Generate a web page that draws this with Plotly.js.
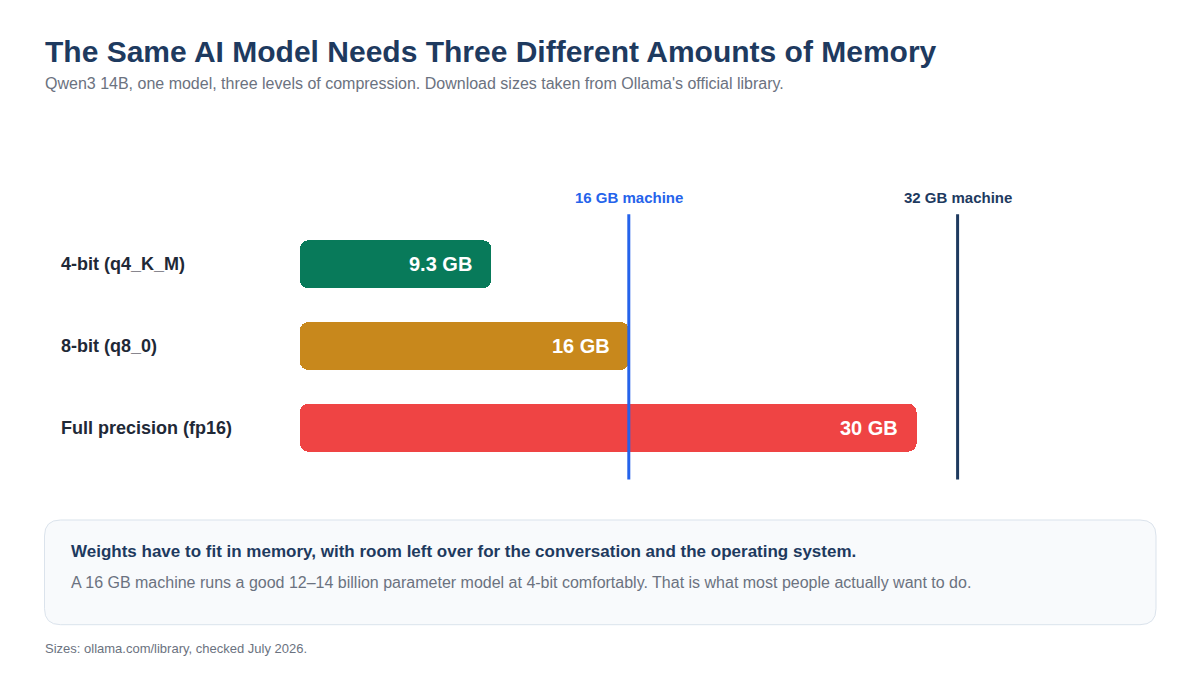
<!DOCTYPE html>
<html>
<head>
<meta charset="utf-8">
<script src="https://cdn.plot.ly/plotly-3.0.1.min.js"></script>
<style>
  html, body { margin: 0; padding: 0; background: #ffffff; }
  #chart { width: 1200px; height: 675px; }
</style>
</head>
<body>
<div id="chart"></div>
<script>
// ---- Data ----
const categories = ["4-bit (q4_K_M)", "8-bit (q8_0)", "Full precision (fp16)"];
const sizesGB = [9.3, 16, 30];
const sizeLabels = ["9.3 GB", "16 GB", "30 GB"];
const barColors = ["#087a5a", "#c8881c", "#ef4444"];
const machinesGB = [16, 32];
const machineLabels = ["16 GB machine", "32 GB machine"];
const machineColors = ["#2563eb", "#1e3a5f"];

// ---- Layout geometry (pixels) ----
const W = 1200, H = 675;
const ml = 300, mr = 78, mt = 206.6, mb = 189.6;
const pw = W - ml - mr, ph = H - mt - mb;
const px = x => (x - ml) / pw;
const py = y => (H - mb - y) / ph;

const FONT = "Liberation Sans";
const NAVY = "#1e3a5f";
const GRAY = "#6b7280";

const yIdx = categories.map((c, i) => i);
// each bar drawn as two overlapping halves so both ends get rounded corners
const barStart = {
  type: "bar", orientation: "h",
  y: yIdx,
  base: sizesGB.map(v => v * 0.6),
  x: sizesGB.map(v => -v * 0.6),
  width: 0.585,
  marker: { color: barColors, cornerradius: 8, line: { width: 0 } },
  hoverinfo: "skip", showlegend: false
};
const barEnd = {
  type: "bar", orientation: "h",
  y: yIdx,
  base: sizesGB.map(v => v * 0.4),
  x: sizesGB.map(v => v * 0.6),
  width: 0.585,
  marker: { color: barColors, cornerradius: 8, line: { width: 0 } },
  hoverinfo: "skip", showlegend: false
};

const shapes = [];
const annotations = [];

// machine lines
machinesGB.forEach((m, i) => {
  shapes.push({
    type: "line", xref: "x", yref: "y",
    x0: m, x1: m, y0: -0.61, y1: 2.634,
    line: { color: machineColors[i], width: 3 },
    layer: "above"
  });
  annotations.push({
    xref: "x", yref: "paper", x: m, y: py(197),
    text: "<b>" + machineLabels[i] + "</b>",
    showarrow: false, xanchor: "center", yanchor: "middle", borderpad: 0,
    font: { family: FONT, size: 15, color: machineColors[i] }
  });
});

// category labels on the left + value labels inside bars
categories.forEach((c, i) => {
  annotations.push({
    xref: "paper", yref: "y", x: px(60), y: i,
    text: "<b>" + c + "</b>",
    showarrow: false, xanchor: "left", yanchor: "middle", borderpad: 0,
    font: { family: FONT, size: 18, color: "#1f2937" }
  });
  annotations.push({
    xref: "x", yref: "y", x: sizesGB[i], y: i,
    text: "<b>" + sizeLabels[i] + "</b>",
    showarrow: false, xanchor: "right", yanchor: "middle", xshift: -18, borderpad: 0,
    font: { family: FONT, size: 20, color: "#ffffff" }
  });
});

// rounded note box
function roundRect(x0, y0, x1, y1, r) {
  const P = (x, y) => px(x) + "," + py(y);
  return "M" + P(x0 + r, y0) +
    " L" + P(x1 - r, y0) + " Q" + P(x1, y0) + " " + P(x1, y0 + r) +
    " L" + P(x1, y1 - r) + " Q" + P(x1, y1) + " " + P(x1 - r, y1) +
    " L" + P(x0 + r, y1) + " Q" + P(x0, y1) + " " + P(x0, y1 - r) +
    " L" + P(x0, y0 + r) + " Q" + P(x0, y0) + " " + P(x0 + r, y0) + " Z";
}
shapes.push({
  type: "path", xref: "paper", yref: "paper",
  path: roundRect(44.5, 520.5, 1156, 625.5, 16),
  fillcolor: "#f8fafc",
  line: { color: "#dbe3ec", width: 1 },
  layer: "below"
});

// titles and texts
const texts = [
  { x: 44, y: 51, t: "<b>The Same AI Model Needs Three Different Amounts of Memory</b>", s: 30, c: NAVY },
  { x: 44, y: 83, t: "Qwen3 14B, one model, three levels of compression. Download sizes taken from Ollama's official library.", s: 16, c: GRAY },
  { x: 70, y: 552, t: "<b>Weights have to fit in memory, with room left over for the conversation and the operating system.</b>", s: 17, c: NAVY },
  { x: 70, y: 583, t: "A 16 GB machine runs a good 12–14 billion parameter model at 4-bit comfortably. That is what most people actually want to do.", s: 16, c: GRAY },
  { x: 44, y: 649, t: "Sizes: ollama.com/library, checked July 2026.", s: 13, c: GRAY }
];
texts.forEach(o => annotations.push({
  xref: "paper", yref: "paper", x: px(o.x), y: py(o.y),
  text: o.t, showarrow: false, xanchor: "left", yanchor: "middle", borderpad: 0,
  font: { family: FONT, size: o.s, color: o.c }
}));

const layout = {
  width: W, height: H,
  margin: { l: ml, r: mr, t: mt, b: mb, pad: 0 },
  paper_bgcolor: "#ffffff",
  plot_bgcolor: "rgba(0,0,0,0)",
  font: { family: FONT },
  barmode: "overlay",
  xaxis: { range: [0, 40], visible: false, fixedrange: true },
  yaxis: { range: [2.7, -0.7], visible: false, fixedrange: true },
  shapes: shapes,
  annotations: annotations,
  bargap: 0
};

Plotly.newPlot("chart", [barStart, barEnd], layout, { displayModeBar: false, staticPlot: true });
</script>
</body>
</html>
